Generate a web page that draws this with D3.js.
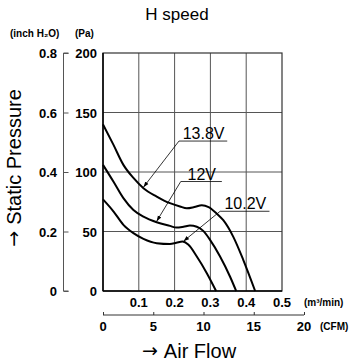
<!DOCTYPE html>
<html><head><meta charset="utf-8">
<script src="https://cdn.jsdelivr.net/npm/d3@7"></script>
<style>body{margin:0;background:#fff}svg{display:block}text{font-family:"Liberation Sans",Arial,sans-serif;fill:#000}</style>
</head><body><svg id="c" width="357" height="363"></svg>
<script>
const title = "H speed";
const flowTicks = [0.1, 0.2, 0.3, 0.4, 0.5];
const cfmTicks = [0, 5, 10, 15, 20];
const paTicks = [0, 50, 100, 150, 200];
const inchTicks = [0, 0.2, 0.4, 0.6, 0.8];
const seriesNames = ["13.8V", "12V", "10.2V"];
const flow138 = [0,0.029,0.057,0.085,0.113,0.15,0.187,0.215,0.234,0.255,0.276,0.295,0.318,0.336,0.364,0.392,0.425];
const pres138 = [140,123,106,95,86.4,79.4,73.8,71,69.5,70.5,72,70.5,65,59.5,45.5,26,0];
const flow12 = [0,0.029,0.057,0.085,0.113,0.15,0.187,0.205,0.225,0.243,0.262,0.28,0.299,0.327,0.355,0.372];
const pres12 = [106,92,78,68,62.5,57.8,54.7,53.3,54,55,54,50.5,43,29,12,0];
const flow102 = [0,0.029,0.057,0.085,0.113,0.15,0.187,0.205,0.222,0.238,0.262,0.29,0.316];
const pres102 = [77,67,55.6,48.6,43.8,40.2,39.5,40.5,41.5,39,29,15,0];
// arrow tip flow, label underline start/end flow, underline pressure
const arrowFlow = [0.113, 0.15, 0.225];
const labelFlow = [0.215, 0.22, 0.33];
const labelFlowEnd = [0.347, 0.332, 0.465];
const labelPres = [126, 92, 67];

const svg = d3.select("#c");
const L=103, R=282, T=53, B=291;
const x = d3.scaleLinear().domain([0,0.5]).range([L,R]);
const y = d3.scaleLinear().domain([0,200]).range([B,T]);
const yi = d3.scaleLinear().domain([0,0.8]).range([B,T]);
const xc = d3.scaleLinear().domain([0,20]).range([103,304]);

// grid
const g = svg.append("g");
g.selectAll(".vg").data(flowTicks.slice(0,4)).join("line")
 .attr("x1",d=>x(d)).attr("x2",d=>x(d)).attr("y1",T).attr("y2",B).attr("stroke","#555").attr("stroke-width",1);
g.selectAll(".hg").data(paTicks.slice(1,4)).join("line")
 .attr("y1",d=>y(d)).attr("y2",d=>y(d)).attr("x1",L).attr("x2",R).attr("stroke","#555").attr("stroke-width",1);
g.append("rect").attr("x",L).attr("y",T).attr("width",R-L).attr("height",B-T).attr("fill","none").attr("stroke","#333").attr("stroke-width",1.2);
g.append("line").attr("x1",L).attr("x2",R).attr("y1",B).attr("y2",B).attr("stroke","#000").attr("stroke-width",1.5);
g.append("line").attr("x1",L).attr("x2",L).attr("y1",T).attr("y2",B).attr("stroke","#000").attr("stroke-width",1.5);

// inch axis
const ia = d3.axisRight(yi).tickValues(inchTicks).tickSize(5).tickFormat("");
const iag = svg.append("g").attr("transform","translate(63.5,0)").call(ia);
iag.select(".domain").attr("d",`M5,${T}H0V${B}H5`).attr("stroke","#555");
iag.selectAll(".tick line").attr("stroke","#555");
svg.selectAll(".il").data(inchTicks).join("text").attr("x",57).attr("y",d=>yi(d)+5)
 .attr("text-anchor","end").attr("font-size",13).attr("font-weight","bold").text(d=>d===0?"0":d.toFixed(1));
svg.selectAll(".pl").data(paTicks).join("text").attr("x",97).attr("y",d=>y(d)+5)
 .attr("text-anchor","end").attr("font-size",13).attr("font-weight","bold").text(d=>d);
svg.append("text").attr("x",10).attr("y",37).attr("font-size",10).attr("font-weight","bold").text("(inch H₂O)");
svg.append("text").attr("x",75).attr("y",37).attr("font-size",10).attr("font-weight","bold").text("(Pa)");

// flow labels
svg.selectAll(".fl").data(flowTicks).join("text").attr("x",d=>x(d)).attr("y",307)
 .attr("text-anchor","middle").attr("font-size",13).attr("font-weight","bold").text(d=>d.toFixed(1));
svg.append("text").attr("x",304).attr("y",306).attr("font-size",10).attr("font-weight","bold").text("(m³/min)");

// CFM axis
const ca = d3.axisTop(xc).tickValues(cfmTicks).tickSize(3).tickFormat("");
const cag = svg.append("g").attr("transform","translate(0,315)").call(ca);
cag.select(".domain").attr("d",`M103,0H304`).attr("stroke","#333");
cag.selectAll(".tick line").attr("stroke","#333");
svg.selectAll(".cl").data(cfmTicks).join("text").attr("x",d=>xc(d)).attr("y",331)
 .attr("text-anchor","middle").attr("font-size",13).attr("font-weight","bold").text(d=>d);
svg.append("text").attr("x",320).attr("y",330).attr("font-size",10).attr("font-weight","bold").text("(CFM)");

// titles
svg.append("text").attr("x",177).attr("y",20).attr("text-anchor","middle").attr("font-size",17).text(title);
const xt = svg.append("text").attr("x",189).attr("y",358).attr("text-anchor","middle").attr("font-size",20);
xt.append("tspan").attr("font-family","DejaVu Sans").attr("font-size",19).attr("dy",-1).text("→ ");
xt.append("tspan").attr("dy",1).text("Air Flow");
const yt = svg.append("text").attr("transform","translate(21,168) rotate(-90)").attr("text-anchor","middle").attr("font-size",20);
yt.append("tspan").attr("font-family","DejaVu Sans").attr("font-size",19).attr("dy",-1).text("→ ");
yt.append("tspan").attr("dy",1).text("Static Pressure");

// curves
const flows=[flow138,flow12,flow102], press=[pres138,pres12,pres102];
const line = d3.line().x(d=>x(d[0])).y(d=>y(d[1])).curve(d3.curveMonotoneX);
const series = flows.map((f,i)=>f.map((v,j)=>[v,press[i][j]]));
svg.selectAll(".curve").data(series).join("path").attr("d",line).attr("fill","none").attr("stroke","#000").attr("stroke-width",2);

// labels with leader lines
svg.append("defs").append("marker").attr("id","ah").attr("viewBox","0 0 10 10").attr("refX",10).attr("refY",5)
 .attr("markerWidth",7).attr("markerHeight",7).attr("orient","auto")
 .append("path").attr("d","M0,1.5L10,5L0,8.5z").attr("fill","#000");
seriesNames.forEach((name,i)=>{
  const lx=x(labelFlow[i]), lx2=x(labelFlowEnd[i]), ly=y(labelPres[i]);
  svg.append("text").attr("x",(lx+lx2)/2).attr("y",ly-2).attr("text-anchor","middle").attr("font-size",16).text(name);
  svg.append("line").attr("x1",lx-1).attr("x2",lx2).attr("y1",ly).attr("y2",ly).attr("stroke","#000").attr("stroke-width",0.8);
  const f=flows[i], p=press[i];
  let k=0; while(f[k+1]<arrowFlow[i]) k++;
  const py = p[k]+(p[k+1]-p[k])*(arrowFlow[i]-f[k])/(f[k+1]-f[k]);
  svg.append("line").attr("x1",lx-1).attr("y1",ly).attr("x2",x(arrowFlow[i])).attr("y2",y(py)-1)
   .attr("stroke","#000").attr("stroke-width",0.8).attr("marker-end","url(#ah)");
});
</script></body></html>
